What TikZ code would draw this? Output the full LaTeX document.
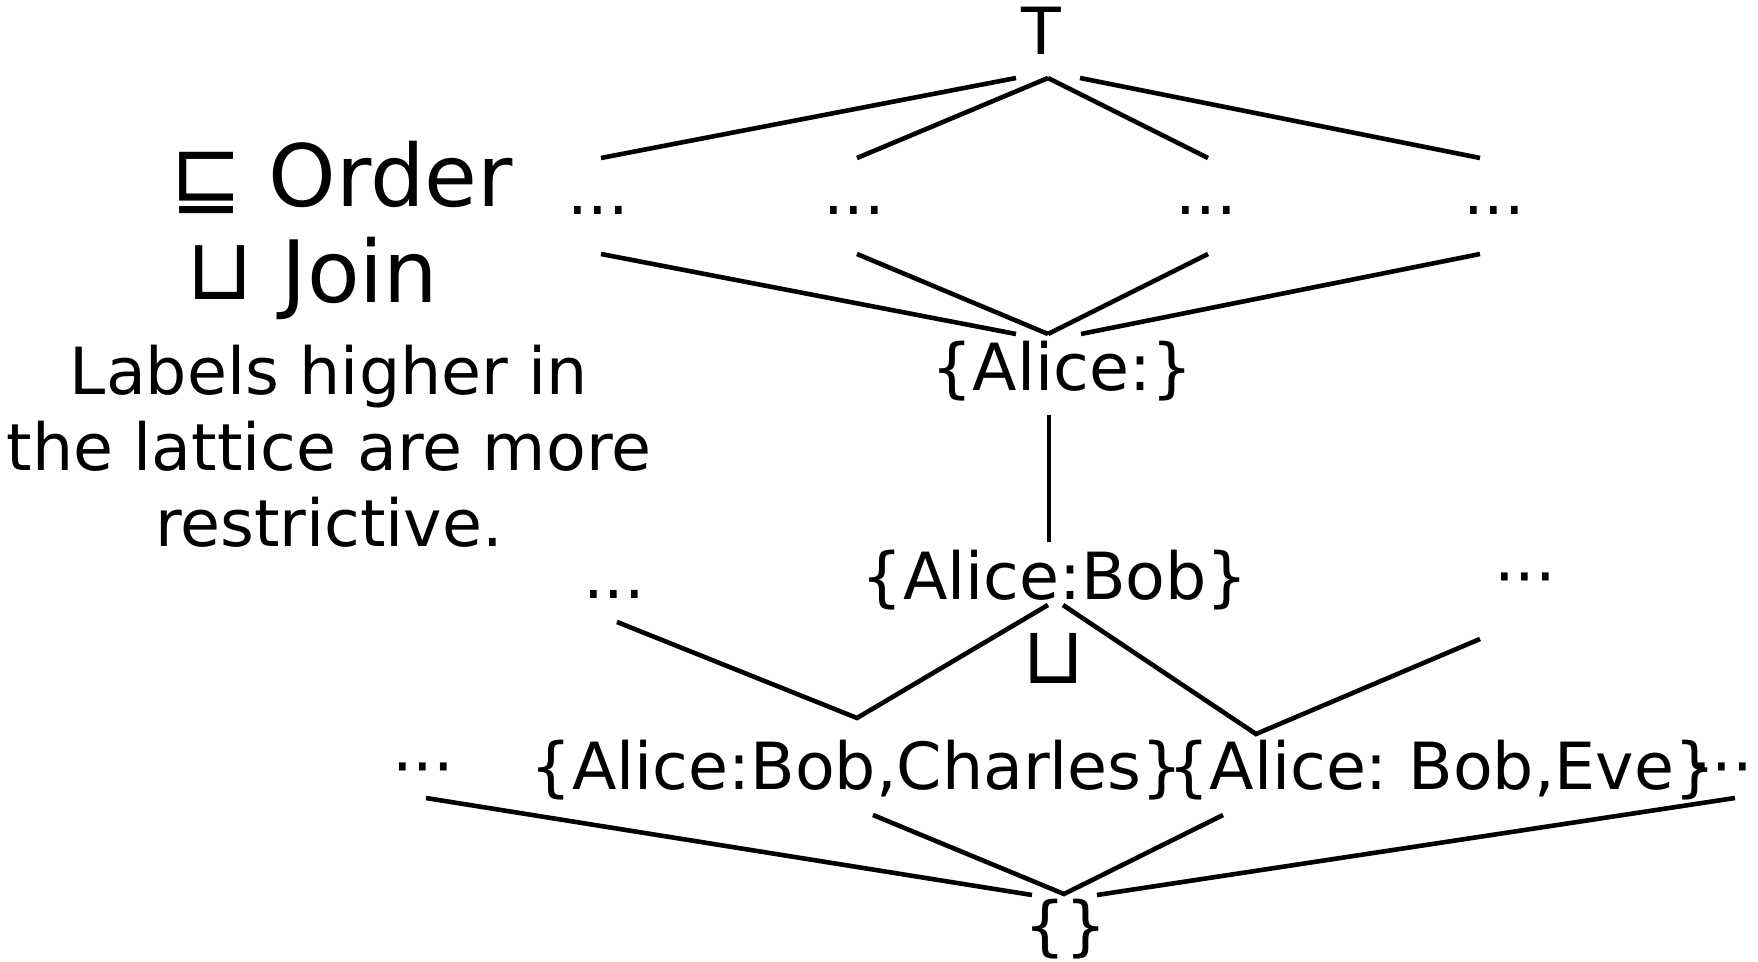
\documentclass[tikz,border=0pt]{standalone}
\usepackage{fontspec}
\setmainfont{DejaVu Sans}
\usepackage{tikz}
\frenchspacing

\begin{document}
\begin{tikzpicture}[
    x=0.5pt, y=-0.5pt,
    lbl/.style={inner sep=0pt, anchor=base, font=\fontsize{32.5}{38}\selectfont},
    big/.style={lbl, font=\fontsize{43}{50}\selectfont},
    edge/.style={draw, line width=2.3pt}
]
\useasboundingbox (0,0) rectangle (1758,962);

% legend on the left
\node[big] (sqsub) at (207,207) {⊑};
\node[big] (order) at (391,207) {Order};
\node[big] (sqcup) at (220,300) {⊔};
\node[big] (join) at (360,303) {Join};
% base of a multi-line node is its last line
\node[lbl, align=center] (note) at (329,547) {Labels higher in\\the lattice are more\\restrictive.};

% lattice elements, top to bottom
\node[lbl] (top) at (1041,55) {T};
\node[lbl] (d1) at (598,215) {...};
\node[lbl] (d2) at (854,215) {...};
\node[lbl] (d3) at (1206,215) {...};
\node[lbl] (d4) at (1494,215) {...};
\node[lbl] (alice) at (1062,391) {\{Alice:\}};
\node[lbl] (bob) at (1055,600) {\{Alice:Bob\}};
\node[lbl] (m1) at (614,599) {...};
\node[lbl] (m2) at (1525,600) {···};
\node[lbl, font=\fontsize{40}{46}\selectfont] (cup) at (1054,683) {⊔};
\node[lbl] (b1) at (423,790) {···};
\node[lbl] (charles) at (857,790) {\{Alice:Bob,Charles\}};
\node[lbl] (eve) at (1442,790) {\{Alice: Bob,Eve\}};
\node[lbl] (b2) at (1722,790) {···};
\node[lbl] (empty) at (1066,948) {\{\}};

% top row
\draw[edge] ([shift={(3,-57)}]d1.base) -- ([shift={(-25,23)}]top.base);
\draw[edge] ([shift={(3,-57)}]d2.base) -- ([shift={(7,23)}]top.base);
\draw[edge] ([shift={(2,-57)}]d3.base) -- ([shift={(7,23)}]top.base);
\draw[edge] ([shift={(-14,-57)}]d4.base) -- ([shift={(39,23)}]top.base);

% down to {Alice:}
\draw[edge] ([shift={(3,39)}]d1.base) -- ([shift={(-46,-57)}]alice.base);
\draw[edge] ([shift={(3,39)}]d2.base) -- ([shift={(-14,-57)}]alice.base);
\draw[edge] ([shift={(2,39)}]d3.base) -- ([shift={(-14,-57)}]alice.base);
\draw[edge] ([shift={(-14,39)}]d4.base) -- ([shift={(19,-57)}]alice.base);
\draw[edge] ([shift={(-13,24)}]alice.base) -- ([shift={(-6,-58)}]bob.base);

% joins below {Alice:Bob}
\draw[edge] ([shift={(3,23)}]m1.base) -- ([shift={(0,-72)}]charles.base)
    -- ([shift={(-7,5)}]bob.base);
\draw[edge] ([shift={(8,5)}]bob.base) -- ([shift={(-186,-56)}]eve.base)
    -- ([shift={(-45,39)}]m2.base);

% bottom
\draw[edge] ([shift={(3,8)}]b1.base) -- ([shift={(-34,-53)}]empty.base);
\draw[edge] ([shift={(16,25)}]charles.base) -- ([shift={(-2,-54)}]empty.base)
    -- ([shift={(-219,25)}]eve.base);
\draw[edge] ([shift={(13,8)}]b2.base) -- ([shift={(31,-53)}]empty.base);
\end{tikzpicture}
\end{document}
